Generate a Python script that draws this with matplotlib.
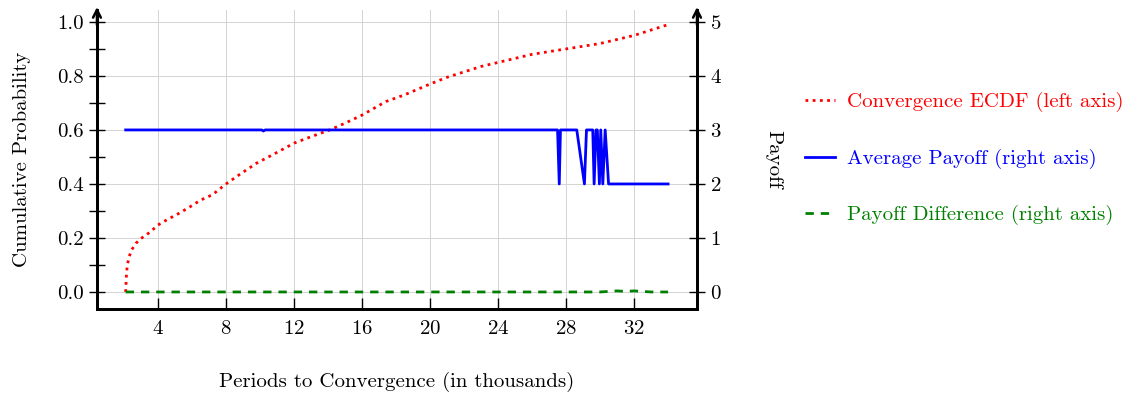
import matplotlib.pyplot as plt
from matplotlib.ticker import MultipleLocator

plt.rcParams['font.family'] = ['cmr10', 'DejaVu Serif']
plt.rcParams['mathtext.fontset'] = 'cm'
plt.rcParams['axes.formatter.use_mathtext'] = True

# convergence ECDF (periods in thousands, cumulative prob.)
ecdf_x = [2.1, 2.12, 2.15, 2.2, 2.3, 2.45, 2.7, 3.0, 3.5, 4.0, 4.6, 5.2, 5.9, 6.5,
          7.2, 8.0, 8.8, 9.8, 10.8, 12.0, 13.0, 14.1, 15.0, 16.0, 17.4, 18.5,
          20.0, 21.0, 22.0, 23.0, 24.0, 25.0, 26.0, 27.0, 28.0, 29.0, 30.0,
          31.0, 32.0, 33.0, 34.0]
ecdf_y = [0.0, 0.03, 0.07, 0.10, 0.13, 0.156, 0.18, 0.198, 0.22, 0.248, 0.27, 0.29,
          0.316, 0.34, 0.36, 0.40, 0.435, 0.477, 0.51, 0.551, 0.575, 0.60, 0.625,
          0.655, 0.705, 0.73, 0.77, 0.795, 0.815, 0.835, 0.85, 0.865, 0.88, 0.89,
          0.90, 0.91, 0.92, 0.935, 0.95, 0.97, 0.99]

# average payoff
pay_x = [2.1, 2.3, 10.1, 10.2, 10.3, 27.5, 27.6, 27.67, 28.63, 29.08, 29.2, 29.57,
         29.65, 29.76, 29.84, 29.96, 30.04, 30.16, 30.3, 30.5, 34.0]
pay_y = [3.0, 3.0, 3.0, 2.98, 3.0, 3.0, 2.0, 3.0, 3.0, 2.0, 3.0, 3.0,
         2.0, 3.0, 3.0, 2.0, 3.0, 2.0, 3.0, 2.0, 2.0]

# payoff difference
diff_x = [2.1, 30.0, 30.5, 31.0, 31.5, 32.0, 33.0, 34.0]
diff_y = [0.0, 0.0, 0.01, 0.02, 0.01, 0.02, 0.0, 0.0]

x_ticks = [4, 8, 12, 16, 20, 24, 28, 32]

fs = 15

fig = plt.figure(figsize=(11.26, 3.97), dpi=100)
ax = fig.add_axes([0.0861, 0.2217, 0.5329, 0.753])
ax2 = ax.twinx()

l1, = ax.plot(ecdf_x, ecdf_y, color='red', ls=(0, (1, 1.6)), lw=2.0,
              label='Convergence ECDF (left axis)')
l2, = ax2.plot(pay_x, pay_y, color='blue', lw=2.0, label='Average Payoff (right axis)')
l3, = ax2.plot(diff_x, diff_y, color='green', ls=(0, (3, 2.5)), lw=2.0,
               label='Payoff Difference (right axis)')

ax.set_xlim(0.41, 35.7)
ax.set_ylim(-0.063, 1.044)
ax2.set_ylim(-0.315, 5.22)

ax.set_xticks(x_ticks)
ax.set_yticks([0, 0.2, 0.4, 0.6, 0.8, 1.0])
ax.set_yticklabels(['0.0', '0.2', '0.4', '0.6', '0.8', '1.0'])
ax.yaxis.set_minor_locator(MultipleLocator(0.1))
ax2.set_yticks([0, 1, 2, 3, 4, 5])

ax.grid(True, color='#d4d4d4', lw=0.7)
ax.tick_params(axis='y', which='both', direction='inout', length=12, width=1.0, labelsize=fs)
ax.tick_params(axis='x', direction='in', length=8, width=1.0, labelsize=fs, pad=8)
ax2.tick_params(axis='y', direction='inout', length=12, width=1.0, labelsize=fs)

for a in (ax, ax2):
    a.spines['top'].set_visible(False)
    for s in ('left', 'right', 'bottom'):
        a.spines[s].set_linewidth(2.0)

for xf in (0, 1):
    ax.annotate('', xy=(xf, 1.01), xycoords='axes fraction', xytext=(xf, 0.95),
                arrowprops=dict(arrowstyle='->', lw=1.8, color='black',
                                mutation_scale=14, shrinkA=0, shrinkB=0))

ax.set_xlabel('Periods to Convergence (in thousands)', fontsize=fs, labelpad=24)
ax.set_ylabel('Cumulative Probability', fontsize=fs, labelpad=19)
ax2.set_ylabel('Payoff', fontsize=fs, rotation=270, labelpad=30, va='bottom')

leg = fig.legend(handles=[l1, l2, l3], loc='center left', bbox_to_anchor=(0.698, 0.6),
                 frameon=False, fontsize=fs, handlelength=1.45, labelspacing=1.75,
                 handletextpad=0.6)
for t, c in zip(leg.get_texts(), ['red', 'blue', 'green']):
    t.set_color(c)

fig.savefig('out.png', dpi=100)
